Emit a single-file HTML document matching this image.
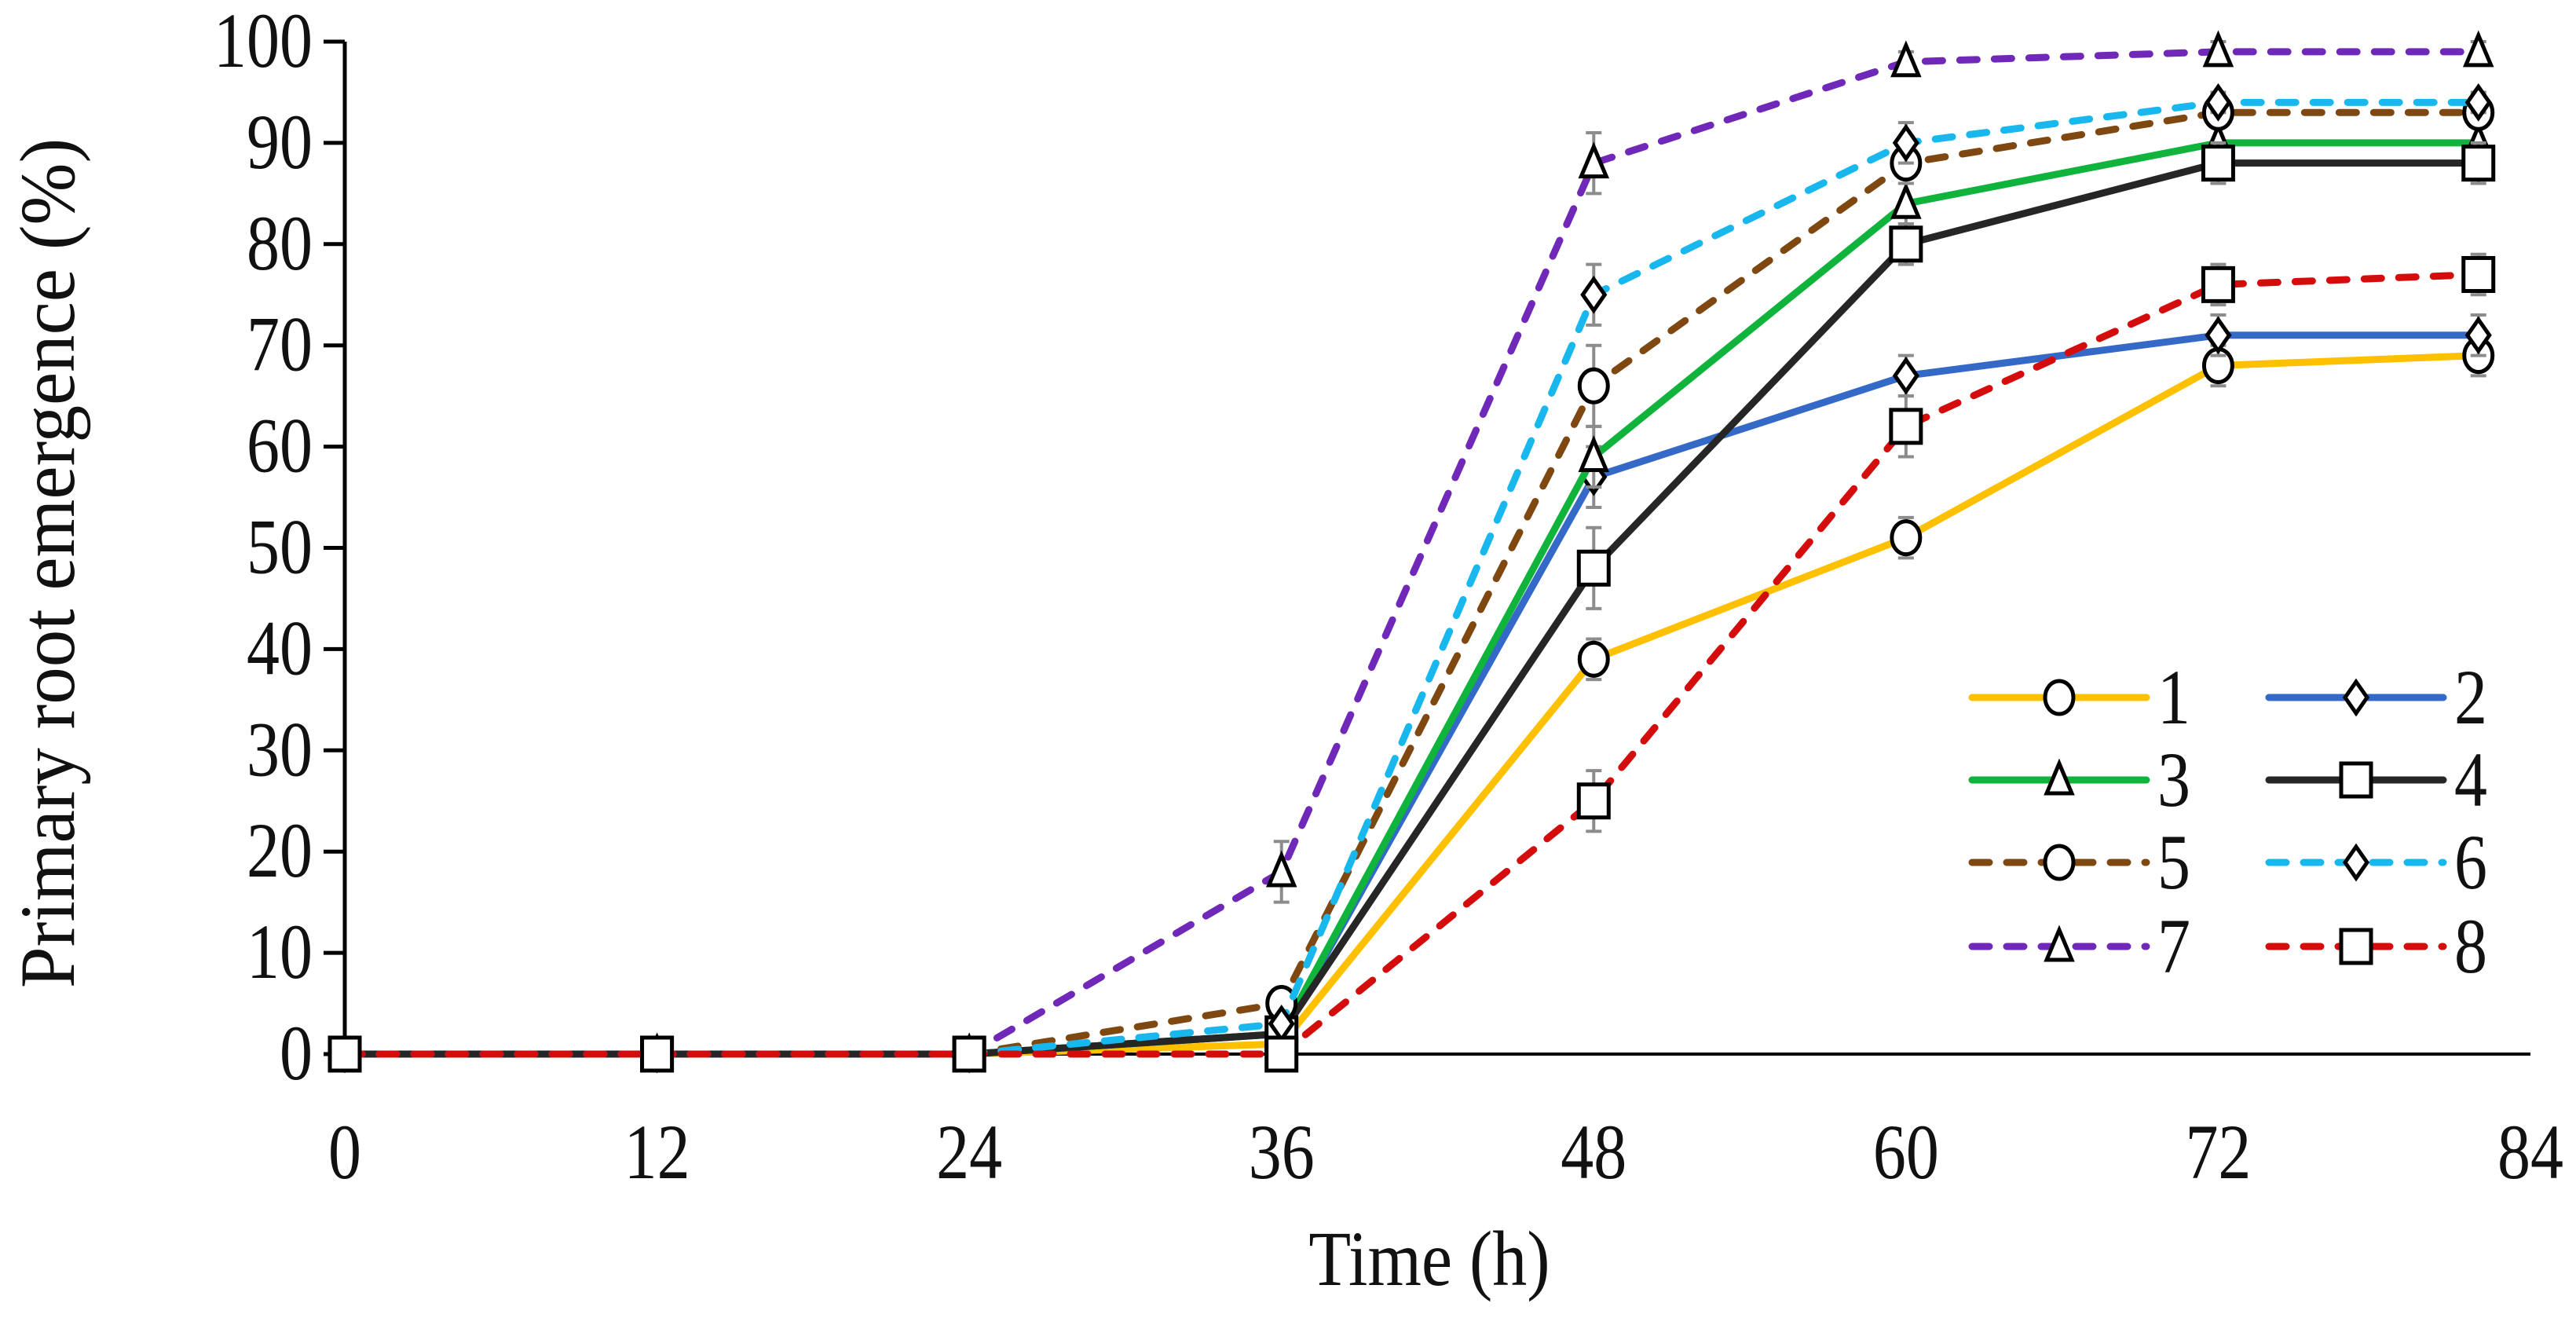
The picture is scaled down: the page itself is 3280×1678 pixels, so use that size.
<!DOCTYPE html>
<html><head><meta charset="utf-8"><style>
html,body{margin:0;padding:0;background:#fff;}
svg text{font-family:"Liberation Serif",serif;fill:#111;}
</style></head><body>
<svg id="chart" width="3280" height="1673" xmlns="http://www.w3.org/2000/svg">
<g id="axes"></g><g id="series"></g><g id="legend"></g>
</svg>
<script>
const hours=[0,12,24,36,48,60,72,82];
const xTicks=[0,12,24,36,48,60,72,84];
const yTicks=[0,10,20,30,40,50,60,70,80,90,100];
const s1=[0,0,0,1,39,51,68,69];
const s2=[0,0,0,2,57,67,71,71];
const s3=[0,0,0,2,59,84,90,90];
const s4=[0,0,0,2,48,80,88,88];
const s5=[0,0,0,5,66,88,93,93];
const s6=[0,0,0,3,75,90,94,94];
const s7=[0,0,0,18,88,98,99,99];
const s8=[0,0,0,0,25,62,76,77];
const e1=[0,0,0,0,2,2,2,2];
const e2=[0,0,0,0,3,2,2,2];
const e3=[0,0,0,0,3,2,2,2];
const e4=[0,0,0,0,4,2,2,2];
const e5=[0,0,0,0,4,2,1,1];
const e6=[0,0,0,0,3,2,1,1];
const e7=[0,0,0,3,3,1,1,1];
const e8=[0,0,0,0,3,3,2,2];
const labels=['1','2','3','4','5','6','7','8'];
const NS='http://www.w3.org/2000/svg';
const X=h=>439+(h/84)*(3222-439);
const Y=v=>1342-(v/100)*(1342-53);
function mk(tag,attrs,parent){const e=document.createElementNS(NS,tag);for(const k in attrs)e.setAttribute(k,attrs[k]);parent.appendChild(e);return e;}
function txt(x,y,s,anchor,size,parent,rot,sx){
  sx=sx||0.84;
  const t=mk('text',{x:0,y:0,'text-anchor':anchor,'font-size':size,transform:`translate(${x},${y})`+(rot?` rotate(${rot})`:'')+` scale(${sx},1)`},parent);
  t.textContent=s;return t;
}
const axes=document.getElementById('axes');
const yAxis=mk('line',{x1:439,y1:Y(100),x2:439,y2:Y(0),stroke:'#000','stroke-width':5},axes);


const xAxis=mk('line',{x1:439,y1:Y(0),x2:3222,y2:Y(0),stroke:'#000','stroke-width':4},axes);


yTicks.forEach(v=>{
  const t=mk('line',{x1:412,y1:Y(v),x2:439,y2:Y(v),stroke:'#000','stroke-width':5},axes);
  
  
  const l=txt(398,Y(v)+32,String(v),'end',100,axes);
  
  
});
xTicks.forEach(h=>{
  const l=txt(X(h),1500,String(h),'middle',100,axes);
  
  
});
const xt=txt(1820,1636,'Time (h)','middle',100,axes,0,0.88);


const yt=txt(94,717,'Primary root emergence (%)','middle',100,axes,-90,0.95);



const data=[s1,s2,s3,s4,s5,s6,s7,s8];
const errs=[e1,e2,e3,e4,e5,e6,e7,e8];
const colors=['#ffc000','#3469c8','#10b43c','#262626','#7f4810','#18b8ee','#7028b8','#d40c0c'];
const dashed=[false,false,false,false,true,true,true,true];
const shapes=['circle','diamond','triangle','square','circle','diamond','triangle','square'];
function marker(shape,cx,cy,g){
  const st={fill:'#fff',stroke:'#000','stroke-width':5};
  let m;
  if(shape==='circle')m=mk('ellipse',Object.assign({cx:cx,cy:cy,rx:18,ry:21},st),g);
  else if(shape==='diamond')m=mk('polygon',Object.assign({points:`${cx},${cy-20} ${cx+14},${cy} ${cx},${cy+20} ${cx-14},${cy}`},st),g);
  else if(shape==='triangle')m=mk('polygon',Object.assign({points:`${cx},${cy-21} ${cx+16},${cy+17} ${cx-16},${cy+17}`},st),g);
  else m=mk('rect',Object.assign({x:cx-19,y:cy-21,width:38,height:42},st),g);
  return m;
}
const sg=document.getElementById('series');
data.forEach((vals,i)=>{
  const g=mk('g',{},sg);
  
  
  vals.forEach((v,j)=>{
    const e=errs[i][j];
    if(e>0){
      const b=mk('path',{d:`M${X(hours[j])},${Y(v+e)}V${Y(v-e)}M${X(hours[j])-10},${Y(v+e)}h20M${X(hours[j])-10},${Y(v-e)}h20`,stroke:'#8c8c8c','stroke-width':4,fill:'none'},g);
      
      
    }
  });
  const pts=vals.map((v,j)=>X(hours[j])+','+Y(v)).join(' ');
  const pl=mk('polyline',{points:pts,fill:'none',stroke:colors[i],'stroke-width':9,'stroke-linecap':'round','stroke-dasharray':dashed[i]?'22 22':'none'},g);
  
  
  vals.forEach((v,j)=>{
    const m=marker(shapes[i],X(hours[j]),Y(v),g);
    
    
  });
});
const lg=document.getElementById('legend');
const rowsY=[888,993,1098,1205];
const colX=[2511,2889];
labels.forEach((lab,i)=>{
  const cx=colX[i%2],cy=rowsY[Math.floor(i/2)];
  const g=mk('g',{},lg);
  
  
  mk('line',{x1:cx,y1:cy,x2:cx+222,y2:cy,stroke:colors[i],'stroke-width':9,'stroke-linecap':'round','stroke-dasharray':dashed[i]?'22 22':'none'},g);
  marker(shapes[i],cx+111,cy,g);
  txt(cx+236,cy+33,lab,'start',100,g);
});
</script>
</body></html>
